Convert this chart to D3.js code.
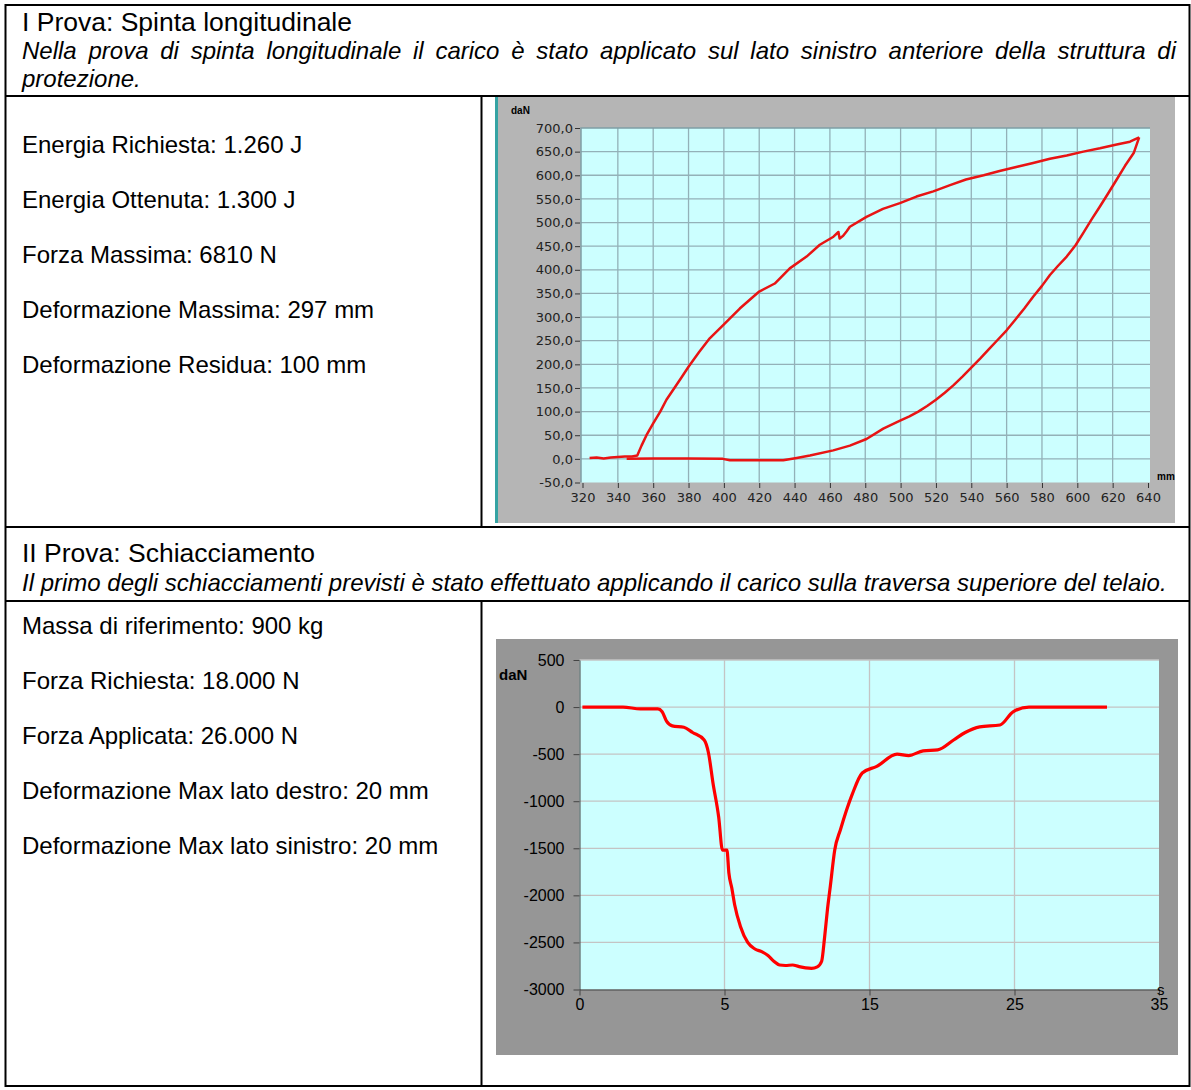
<!DOCTYPE html>
<html>
<head>
<meta charset="utf-8">
<script src="https://cdn.jsdelivr.net/npm/d3@7"></script>
<style>
  body { margin: 0; background: #fff; }
  svg text { font-family: 'Liberation Sans', Arial, sans-serif; }
</style>
</head>
<body>
<svg id="page" width="1191" height="1090"></svg>
<script>
// testi della tabella
var prova1Title = 'I Prova: Spinta longitudinale';
var prova1Desc = ['Nella prova di spinta longitudinale il carico è stato applicato sul lato sinistro anteriore della struttura di', 'protezione.'];
var prova1Results = ['Energia Richiesta: 1.260 J', 'Energia Ottenuta: 1.300 J', 'Forza Massima: 6810 N',
  'Deformazione Massima: 297 mm', 'Deformazione Residua: 100 mm'];
var prova2Title = 'II Prova: Schiacciamento';
var prova2Desc = 'Il primo degli schiacciamenti previsti è stato effettuato applicando il carico sulla traversa superiore del telaio.';
var prova2Results = ['Massa di riferimento: 900 kg', 'Forza Richiesta: 18.000 N', 'Forza Applicata: 26.000 N',
  'Deformazione Max lato destro: 20 mm', 'Deformazione Max lato sinistro: 20 mm'];

// grafico 1: spinta longitudinale (mm, daN)
var spintaCarico = [[324,2],[328,3],[332,1],[336,3],[340,4],[344,5],[348,5],[351,7],[353.4,28],[356.2,50],
  [360,75],[364,100],[367.5,125],[372,150],[376,172],[380,195],[386,226],[392,255],[399.6,283],[409,318],
  [420,354],[428.8,371],[437.3,403],[446.8,428],[454.3,453],[462,470],[464.8,480],[465.5,466],[467.5,472],
  [469.4,481],[471.3,491],[480.7,512],[490,529],[499.6,541],[509,555],[518.5,566],[528,579],[537,591],
  [547,600],[556,609],[566,618],[575,626],[584.5,635],[594,642],[603.4,650],[612.8,657],[622.3,665],
  [629.8,671],[635,680]];
var spintaScarico = [[635,680],[631.9,647],[627,620],[622.3,591],[617.5,562],[612.8,534],[608,506],[603.4,478],
  [599,452],[594,428],[589,408],[584.5,389],[580,366],[575,343],[570,318],[565,295],[560,272],[555,252],
  [550,232],[545,212],[540,193],[535,174],[530,156],[525,140],[520,125],[515,112],[510,100],[505,90],
  [499.7,81],[490.2,64],[480.7,42],[471.3,28],[461.9,18],[448.7,7],[441.2,2],[433.6,-3],[403.4,-3],
  [399.4,0],[380,1],[360,1],[345,0]];
var spintaXTicks = d3.range(320, 641, 20);
var spintaYTicks = d3.range(-50, 701, 50);

// grafico 2: schiacciamento (s, daN)
var schTempo = [0.1, 1.5, 2.1, 2.7, 2.85, 3.0, 3.2, 3.6, 3.9, 4.3, 4.45, 4.6, 4.8, 4.93, 5.17, 5.3, 5.5, 5.7,
  6.1, 6.6, 7.1, 7.6, 8.0, 8.4, 8.8, 9.2, 9.7, 10.1, 10.6, 11.0, 11.4, 11.7, 11.9, 12.1, 12.3, 12.6, 13.0,
  13.8, 14.5, 15.5, 16.9, 17.7, 18.7, 19.7, 20.8, 21.6, 22.6, 24.0, 24.9, 26.0, 31.4];
var schForza = [0, 0, -20, -20, -50, -150, -200, -215, -270, -350, -490, -800, -1170, -1520, -1520, -1760,
  -1920, -2100, -2330, -2500, -2570, -2600, -2640, -2700, -2740, -2745, -2740, -2755, -2770, -2775, -2760,
  -2700, -2450, -2150, -1900, -1520, -1300, -930, -700, -630, -500, -515, -465, -455, -350, -270, -210,
  -190, -50, 0, 0];
var schXTicks = [0, 5, 15, 25, 35];
var schYTicks = d3.range(-3000, 501, 500);

var svg = d3.select('#page');
svg.append('rect').attr('width', 1191).attr('height', 1090).attr('fill', '#fff');

// --- tabella ---
var tLeft = 5.5, tRight = 1189.5, tTop = 5, tBottom = 1086, colX = 481.5;
var row1 = 96, row2 = 527, row3 = 601;
var padX = 22;

function hline(y) {
  svg.append('line').attr('x1', tLeft).attr('x2', tRight).attr('y1', y).attr('y2', y)
    .attr('stroke', '#000').attr('stroke-width', 2);
}
function vline(x, y1, y2) {
  svg.append('line').attr('x1', x).attr('x2', x).attr('y1', y1).attr('y2', y2)
    .attr('stroke', '#000').attr('stroke-width', 2);
}

function justify(str, x0, x1, y) {
  var words = str.split(' ');
  var g = svg.append('g');
  var nodes = words.map(function(w) {
    return g.append('text').attr('y', y).attr('font-size', 24).attr('font-style', 'italic').text(w);
  });
  var widths = nodes.map(function(n) { return n.node().getComputedTextLength(); });
  var gap = (x1 - x0 - d3.sum(widths)) / (words.length - 1);
  var x = x0;
  nodes.forEach(function(n, i) {
    n.attr('x', x);
    x += widths[i] + gap;
  });
}

function results(list, y0) {
  svg.selectAll(null)
    .data(list)
    .enter()
    .append('text')
    .attr('x', padX)
    .attr('y', function(d, i) { return y0 + i * 55; })
    .attr('font-size', 24)
    .text(function(d) { return d; });
}

svg.append('text').attr('x', padX).attr('y', 31).attr('font-size', 26.5).text(prova1Title);
justify(prova1Desc[0], padX, 1176, 59);
svg.append('text').attr('x', padX).attr('y', 86.6).attr('font-size', 24).attr('font-style', 'italic').text(prova1Desc[1]);
results(prova1Results, 153);

svg.append('text').attr('x', padX).attr('y', 562).attr('font-size', 26.5).text(prova2Title);
svg.append('text').attr('x', padX).attr('y', 591).attr('font-size', 24).attr('font-style', 'italic').text(prova2Desc);
results(prova2Results, 634);

// --- grafico 1 ---
function drawSpinta() {
  var g = svg.append('g');
  g.append('rect').attr('x', 495).attr('y', 97).attr('width', 680).attr('height', 426).attr('fill', '#b5b5b5');
  g.append('rect').attr('x', 495).attr('y', 97).attr('width', 3).attr('height', 426).attr('fill', '#35a3a3');

  var x = d3.scaleLinear().domain([320, 640]).range([582.5, 1148]);
  var y = d3.scaleLinear().domain([-50, 700]).range([482.5, 128]);

  g.append('rect').attr('x', 581).attr('y', 128).attr('width', 569).attr('height', 354.5).attr('fill', '#ccffff');

  g.selectAll('.vg').data(spintaXTicks.filter(function(d) { return d > 320 && d < 640; }))
    .enter().append('line').attr('class', 'vg')
    .attr('x1', x).attr('x2', x).attr('y1', 128).attr('y2', 482.5)
    .attr('stroke', '#93b1b8').attr('stroke-width', 1.3);
  g.selectAll('.hg').data(spintaYTicks.filter(function(d) { return d > -50 && d < 700; }))
    .enter().append('line').attr('class', 'hg')
    .attr('x1', 581).attr('x2', 1150).attr('y1', y).attr('y2', y)
    .attr('stroke', '#93b1b8').attr('stroke-width', 1.3);
  g.append('path').attr('d', 'M581,482.5V128H1150').attr('fill', 'none').attr('stroke', '#7f9ea5').attr('stroke-width', 1.5);

  var yAxis = d3.axisLeft(y).tickValues(spintaYTicks).tickSize(5).tickPadding(2)
    .tickFormat(function(d) { return d.toFixed(1).replace('.', ','); });
  var ya = g.append('g').attr('transform', 'translate(580,0)').call(yAxis);
  var xAxis = d3.axisBottom(x).tickValues(spintaXTicks).tickSize(5).tickPadding(5)
    .tickFormat(function(d) { return String(d); });
  var xa = g.append('g').attr('transform', 'translate(0,483)').call(xAxis);
  [ya, xa].forEach(function(a) {
    a.select('.domain').remove();
    a.selectAll('line').attr('stroke', '#333');
    a.selectAll('text').attr('fill', '#222').style('font-family', 'DejaVu Sans').attr('font-size', 13);
  });

  g.append('text').attr('x', 511).attr('y', 113.5).attr('font-size', 10).attr('font-weight', 'bold').text('daN');
  g.append('text').attr('x', 1157).attr('y', 480).attr('font-size', 10).attr('font-weight', 'bold').text('mm');

  var line = d3.line().x(function(d) { return x(d[0]); }).y(function(d) { return y(d[1]); });
  [spintaCarico, spintaScarico].forEach(function(c) {
    g.append('path').attr('d', line(c)).attr('fill', 'none')
      .attr('stroke', '#e81414').attr('stroke-width', 2.5).attr('stroke-linejoin', 'round');
  });
}

// --- grafico 2 ---
function drawSchiacciamento() {
  var g = svg.append('g');
  g.append('rect').attr('x', 496).attr('y', 639).attr('width', 682).attr('height', 416).attr('fill', '#969696');

  var x = d3.scaleLinear().domain(schXTicks).range([579.5, 724.5, 869.5, 1014.5, 1159]);
  var y = d3.scaleLinear().domain([-3000, 500]).range([989.5, 660]);

  g.append('rect').attr('x', 579.5).attr('y', 660).attr('width', 579.5).attr('height', 329.5).attr('fill', '#ccffff');
  g.selectAll('.hg').data(schYTicks.filter(function(d) { return d > -3000; }))
    .enter().append('line').attr('class', 'hg')
    .attr('x1', 579.5).attr('x2', 1159).attr('y1', y).attr('y2', y)
    .attr('stroke', '#c4c4c4').attr('stroke-width', 1.3);
  g.selectAll('.vg').data(schXTicks.filter(function(d) { return d > 0 && d < 35; }))
    .enter().append('line').attr('class', 'vg')
    .attr('x1', x).attr('x2', x).attr('y1', 660).attr('y2', 989.5)
    .attr('stroke', '#c4c4c4').attr('stroke-width', 1.3);

  var ya = g.append('g').attr('transform', 'translate(579.5,0)')
    .call(d3.axisLeft(y).tickValues(schYTicks).tickSize(6).tickPadding(9).tickSizeOuter(0)
      .tickFormat(function(d) { return String(d); }));
  var xa = g.append('g').attr('transform', 'translate(0,989.5)')
    .call(d3.axisBottom(x).tickValues(schXTicks).tickSize(6).tickPadding(3).tickSizeOuter(0)
      .tickFormat(function(d) { return String(d); }));
  [ya, xa].forEach(function(a) {
    a.select('.domain').attr('stroke', '#444');
    a.selectAll('line').attr('stroke', '#444');
    a.selectAll('text').attr('fill', '#000').attr('font-size', 16);
  });

  g.append('text').attr('x', 499).attr('y', 680).attr('font-size', 15).attr('font-weight', 'bold').text('daN');
  g.append('text').attr('x', 1157).attr('y', 995).attr('font-size', 15).text('s');

  var line = d3.line().curve(d3.curveMonotoneX)
    .x(function(d, i) { return x(schTempo[i]); })
    .y(function(d) { return y(d); });
  g.append('path').attr('d', line(schForza)).attr('fill', 'none')
    .attr('stroke', '#ff0000').attr('stroke-width', 3.2);
}

drawSpinta();
drawSchiacciamento();

hline(tTop); hline(row1); hline(row2); hline(row3); hline(tBottom);
vline(tLeft, tTop - 1, tBottom + 1); vline(tRight, tTop - 1, tBottom + 1);
vline(colX, row1, row2); vline(colX, row3, tBottom);
</script>
</body>
</html>
